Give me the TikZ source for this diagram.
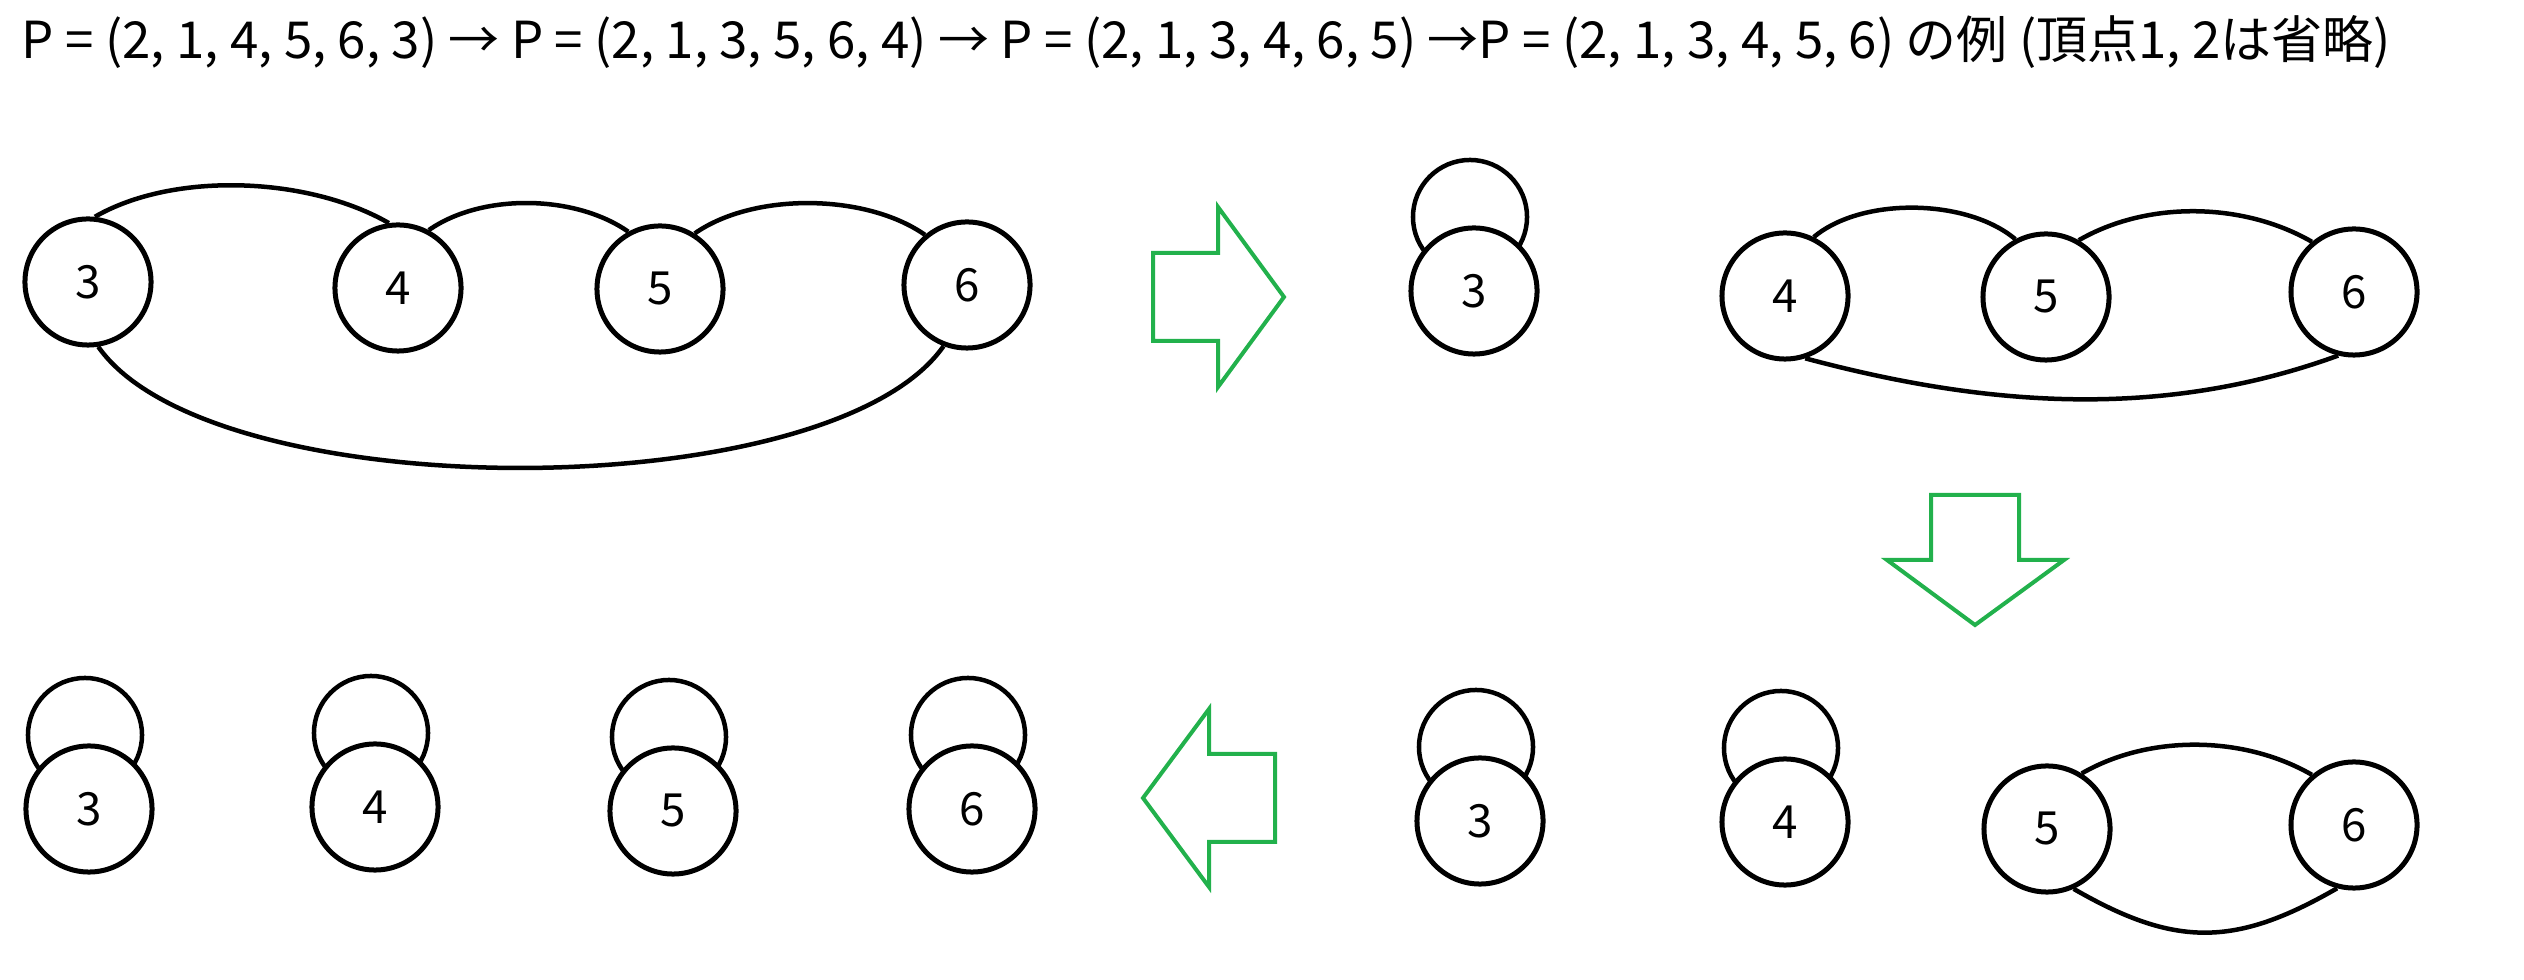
\documentclass[tikz,border=0pt]{standalone}
\usepackage{fontspec}
\setmainfont{Noto Sans CJK JP}
\usepackage{tikz}
\usetikzlibrary{calc,backgrounds,positioning}
\definecolor{arrowgreen}{RGB}{34,177,76}

\begin{document}
\begin{tikzpicture}[x=0.01cm,y=-0.01cm,
  vtx/.style={circle,draw,line width=0.05cm,fill=white,minimum size=1.26cm,inner sep=0pt,font=\fontsize{13}{15}\selectfont},
  edg/.style={line width=0.045cm},
  selfloop/.style={line width=0.045cm},
  bigarrow/.style={draw=arrowgreen,line width=0.04cm,line join=miter}]
\useasboundingbox (0,0) rectangle (2524,980);
\node[anchor=base west,inner sep=0pt,font=\fontsize{14.5}{16}\selectfont] (title) at (21,59)
  {P = (2, 1, 4, 5, 6, 3) → P = (2, 1, 3, 5, 6, 4) → P = (2, 1, 3, 4, 6, 5) →P = (2, 1, 3, 4, 5, 6) の例 (頂点1, 2は省略)};

% step 1
\node[vtx] (a3) at (88,282) {3};
\node[vtx] (a4) at (398,288) {4};
\node[vtx] (a5) at (660,289) {5};
\node[vtx] (a6) at (967,285) {6};
\draw[edg] (a3.84) to[out=30,in=150,looseness=0.8] (a4.98);
\draw[edg] (a4.62) to[out=35,in=145,looseness=0.83] (a5.119);
\draw[edg] (a5.58) to[out=35,in=145,looseness=0.8] (a6.130);
\draw[edg] (a3.-81) to[out=-55,in=-125,looseness=0.6] (a6.-111);

\draw[bigarrow] (1153,253) -- (1218,253) -- (1218,207) -- (1284,297) -- (1218,387) -- (1218,341) -- (1153,341) -- cycle;

% step 2
\node[vtx] (b3) at (1474,291) {3};
\node[vtx] (b4) at (1785,296) {4};
\node[vtx] (b5) at (2046,297) {5};
\node[vtx] (b6) at (2354,292) {6};
\draw[edg] (b4.64) to[out=40,in=140,looseness=0.8] (b5.118);
\draw[edg] (b5.60) to[out=30,in=150,looseness=0.87] (b6.130);
\draw[edg] (b4.-72) to[out=-15,in=-160,looseness=0.9] (b6.-104);

\draw[bigarrow] (1931,495) -- (2019,495) -- (2019,560) -- (2064,560) -- (1975,625) -- (1887,560) -- (1931,560) -- cycle;

% step 3
\node[vtx] (c3) at (1480,821) {3};
\node[vtx] (c4) at (1785,822) {4};
\node[vtx] (c5) at (2047,829) {5};
\node[vtx] (c6) at (2354,825) {6};
\draw[edg] (c5.58) to[out=30,in=150,looseness=0.87] (c6.130);
\draw[edg] (c5.-66) to[out=-30,in=-150,looseness=1.14] (c6.-105);

\draw[bigarrow] (1275,754) -- (1209,754) -- (1209,709) -- (1143,798) -- (1209,887) -- (1209,842) -- (1275,842) -- cycle;

% step 4
\node[vtx] (d3) at (89,809) {3};
\node[vtx] (d4) at (375,807) {4};
\node[vtx] (d5) at (673,811) {5};
\node[vtx] (d6) at (972,809) {6};

\begin{scope}[on background layer]
\foreach \n in {b3,c3,c4,d3,d4,d5,d6}
  \draw[selfloop] ($(\n)+(-4,-74)$) circle (0.57cm);
\end{scope}
\end{tikzpicture}
\end{document}
